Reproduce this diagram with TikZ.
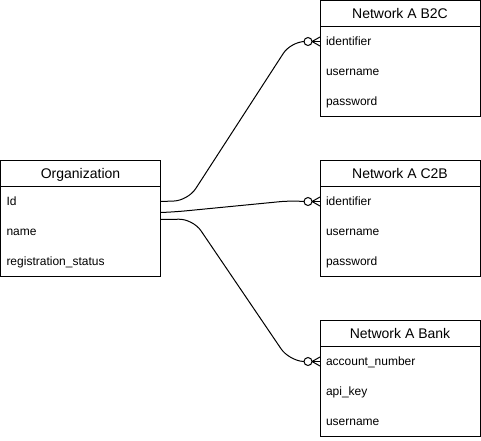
\documentclass[tikz,border=0pt]{standalone}
\usepackage{fontspec}
\setmainfont{Liberation Sans}
\newcommand{\erentity}[7]{%
  \node[entbox] (#1) at (#2,#3) {};
  \node[hdr] (#1-h) at (#1.north west) {#4};
  \draw (#1-h.south west) -- (#1-h.south east);
  \node[rowtxt] (#1-r1) at (#1-h.south west) {#5};
  \node[rowtxt] (#1-r2) at (#1-r1.south west) {#6};
  \node[rowtxt] (#1-r3) at (#1-r2.south west) {#7};
}
\newcommand{\zeromany}[1]{%
  \draw[fill=white] ([xshift=-12pt]#1.west) circle (4pt);
  \draw ([xshift=-8pt]#1.west) -- ([yshift=4.5pt]#1.west);
  \draw ([xshift=-8pt]#1.west) -- (#1.west);
  \draw ([xshift=-8pt]#1.west) -- ([yshift=-4.5pt]#1.west);
}
\begin{document}
\begin{tikzpicture}[x=1pt,y=-1pt,line width=1pt,
  every node/.style={outer sep=0pt},
  entbox/.style={draw, minimum width=160pt, minimum height=116pt, anchor=north west, inner sep=0pt},
  hdr/.style={minimum width=160pt, minimum height=26pt, anchor=north west, inner sep=0pt, text height=11.5pt, text depth=2pt, font=\fontsize{14}{16}\selectfont},
  rowtxt/.style={anchor=north west, minimum height=30pt, text width=148pt, inner xsep=6pt, inner ysep=0pt, text height=10pt, text depth=2pt, align=left, font=\fontsize{12}{14}\selectfont},
  conn/.style={draw, line width=1pt}]
\useasboundingbox (0,0) rectangle (481,440);
\erentity{org}{0.5}{160.5}{Organization}{Id}{name}{registration\_status}
\erentity{b2c}{320}{0.5}{Network A B2C}{identifier}{username}{password}
\erentity{c2b}{320}{160.5}{Network A C2B}{identifier}{username}{password}
\erentity{bank}{320}{320.5}{Network A Bank}{account\_number}{api\_key}{username}
\coordinate (s1) at (org-r1.east);
\coordinate (s2) at ([yshift=-11pt]org-r1.east);
\coordinate (s3) at ([yshift=-3pt]org-r2.north east);
\coordinate (e1) at ([xshift=-16pt]b2c-r1.west);
\coordinate (e2) at ([xshift=-16pt]c2b-r1.west);
\coordinate (e3) at ([xshift=-16pt]bank-r1.west);
\draw[conn, rounded corners=14pt] (s1) -- (188,200.5) -- (291,41.5) -- (e1);
\draw[conn, rounded corners=12pt] (s2) -- (174,212) -- (292,200.5) -- (e2);
\draw[conn, rounded corners=14pt] (s3) -- (193,219) -- (289,360.5) -- (e3);
\zeromany{b2c-r1}
\zeromany{c2b-r1}
\zeromany{bank-r1}
\end{tikzpicture}
\end{document}
